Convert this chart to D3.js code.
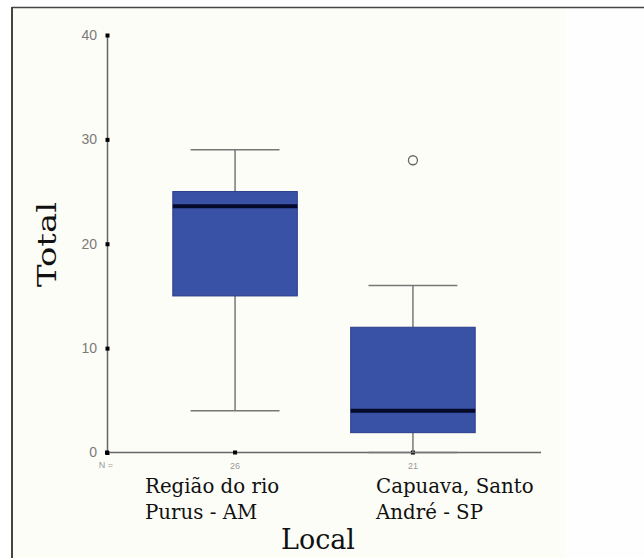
<!DOCTYPE html>
<html>
<head>
<meta charset="utf-8">
<script src="https://cdn.jsdelivr.net/npm/d3@7"></script>
<style>
  html, body { margin: 0; padding: 0; background: #ffffff; }
  svg { display: block; }
</style>
</head>
<body>
<div id="chart"></div>
<script>
// Données
const categories = ['Região do rio Purus - AM', 'Capuava, Santo André - SP'];
const labelLines = [['Região do rio', 'Purus - AM'], ['Capuava, Santo', 'André - SP']];
const counts = [26, 21];
const whiskerLow = [4, 0];
const q1 = [15, 1.9];
const medians = [23.6, 4];
const q3 = [25, 12];
const whiskerHigh = [29, 16];
const outliers = [[], [28]];
const yTicks = [0, 10, 20, 30, 40];

const width = 644, height = 558;

const svg = d3.select('#chart')
    .append('svg')
    .attr('width', width)
    .attr('height', height);

// Cadre et fond
svg.append('rect')
    .attr('x', 12).attr('y', 7)
    .attr('width', width).attr('height', height)
    .attr('fill', '#fdfdf7');
svg.append('rect')
    .attr('x', 565).attr('y', 8)
    .attr('width', 80).attr('height', height)
    .attr('fill', '#fefefe');
svg.append('line')
    .attr('x1', 12).attr('x2', width).attr('y1', 7.5).attr('y2', 7.5)
    .attr('stroke', '#444').attr('stroke-width', 1.5);
svg.append('line')
    .attr('x1', 12).attr('x2', 12).attr('y1', 7).attr('y2', height)
    .attr('stroke', '#444').attr('stroke-width', 2);

// Échelles
const y = d3.scaleLinear().domain([0, 40]).range([452.5, 35]);
const x = d3.scalePoint().domain(categories).range([107, 541]).padding(0.72);
const boxW = x.step() * 0.70;
const capW = x.step() * 0.50;

// Axe Y
const yAxis = svg.append('g')
    .attr('transform', 'translate(107,0)')
    .call(d3.axisLeft(y).tickValues(yTicks).tickSize(0).tickPadding(10));
yAxis.select('.domain').attr('stroke', '#666').attr('stroke-width', 1.5);
yAxis.selectAll('text')
    .attr('fill', '#7a7a7a')
    .style('font-family', '"Liberation Sans", Arial, sans-serif')
    .style('font-size', '14px');
yAxis.selectAll('.tick').append('rect')
    .attr('x', -1.5).attr('y', -2).attr('width', 4).attr('height', 4)
    .attr('fill', '#000');

// Axe X
const xAxis = svg.append('g')
    .attr('transform', `translate(0,${y(0)})`);
xAxis.append('line')
    .attr('x1', 107).attr('x2', 541)
    .attr('stroke', '#666').attr('stroke-width', 1.5);
xAxis.append('rect')
    .attr('x', 105).attr('y', -2).attr('width', 4).attr('height', 4)
    .attr('fill', '#000');
xAxis.selectAll('.xtick')
    .data(categories)
    .enter()
    .append('rect')
    .attr('x', d => x(d) - 2).attr('y', -2).attr('width', 4).attr('height', 4)
    .attr('fill', '#000');

// Effectifs N
const smallFont = '"Liberation Sans", Arial, sans-serif';
svg.append('text')
    .attr('x', 106).attr('y', y(0) + 15)
    .attr('text-anchor', 'middle')
    .attr('fill', '#999')
    .style('font-family', smallFont).style('font-size', '9px')
    .text('N =');
svg.selectAll('.count')
    .data(categories)
    .enter()
    .append('text')
    .attr('x', d => x(d))
    .attr('y', y(0) + 16)
    .attr('text-anchor', 'middle')
    .attr('fill', '#999')
    .style('font-family', smallFont).style('font-size', '9px')
    .text((d, i) => counts[i]);

// Boîtes
const boxes = svg.selectAll('.box')
    .data(categories)
    .enter()
    .append('g')
    .attr('class', 'box');

boxes.append('line')
    .attr('x1', d => x(d)).attr('x2', d => x(d))
    .attr('y1', (d, i) => y(whiskerHigh[i]))
    .attr('y2', (d, i) => y(q3[i]))
    .attr('stroke', '#777').attr('stroke-width', 1.5);
boxes.append('line')
    .attr('x1', d => x(d)).attr('x2', d => x(d))
    .attr('y1', (d, i) => y(q1[i]))
    .attr('y2', (d, i) => y(whiskerLow[i]))
    .attr('stroke', '#777').attr('stroke-width', 1.5);
boxes.append('line')
    .attr('x1', d => x(d) - capW / 2).attr('x2', d => x(d) + capW / 2)
    .attr('y1', (d, i) => y(whiskerHigh[i]))
    .attr('y2', (d, i) => y(whiskerHigh[i]))
    .attr('stroke', '#777').attr('stroke-width', 1.5);
boxes.append('line')
    .attr('x1', d => x(d) - capW / 2).attr('x2', d => x(d) + capW / 2)
    .attr('y1', (d, i) => y(whiskerLow[i]))
    .attr('y2', (d, i) => y(whiskerLow[i]))
    .attr('stroke', '#777').attr('stroke-width', 1.5);

boxes.append('rect')
    .attr('x', d => x(d) - boxW / 2)
    .attr('y', (d, i) => y(q3[i]))
    .attr('width', boxW)
    .attr('height', (d, i) => y(q1[i]) - y(q3[i]))
    .attr('fill', '#3a52a6')
    .attr('stroke', '#2a3c8a').attr('stroke-width', 1);

boxes.append('line')
    .attr('x1', d => x(d) - boxW / 2).attr('x2', d => x(d) + boxW / 2)
    .attr('y1', (d, i) => y(medians[i]))
    .attr('y2', (d, i) => y(medians[i]))
    .attr('stroke', '#050a2a').attr('stroke-width', 4);

boxes.each(function(d, i) {
    d3.select(this).selectAll('.outlier')
        .data(outliers[i])
        .enter()
        .append('circle')
        .attr('cx', x(d))
        .attr('cy', v => y(v))
        .attr('r', 4.5)
        .attr('fill', 'none')
        .attr('stroke', '#666').attr('stroke-width', 1.3);
});

// Libellés des catégories
const serif = '"DejaVu Serif", "Liberation Serif", serif';
const labelX = [145, 376];
categories.forEach((c, i) => {
    const t = svg.append('text')
        .attr('x', labelX[i])
        .attr('y', 493)
        .attr('fill', '#111')
        .style('font-family', serif)
        .style('font-size', '19.8px');
    labelLines[i].forEach((line, j) => {
        t.append('tspan')
            .attr('x', labelX[i])
            .attr('dy', j === 0 ? 0 : 26)
            .text(line);
    });
});

// Titres des axes
svg.append('text')
    .attr('x', 318).attr('y', 549)
    .attr('text-anchor', 'middle')
    .attr('fill', '#111')
    .style('font-family', serif)
    .style('font-size', '27px')
    .text('Local');

svg.append('text')
    .attr('transform', 'translate(56,244.5) rotate(-90)')
    .attr('text-anchor', 'middle')
    .attr('fill', '#111')
    .attr('textLength', 85)
    .attr('lengthAdjust', 'spacingAndGlyphs')
    .style('font-family', serif)
    .style('font-size', '26px')
    .text('Total');
</script>
</body>
</html>
